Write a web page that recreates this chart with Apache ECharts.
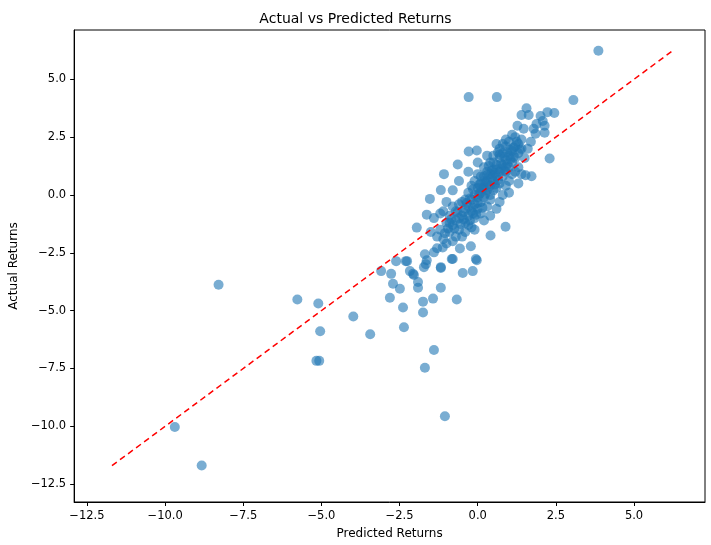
<!DOCTYPE html>
<html><head><meta charset="utf-8">
<script src="https://cdn.jsdelivr.net/npm/echarts@6/dist/echarts.min.js"></script>
<style>body{margin:0}#c{width:711px;height:545px}</style></head>
<body><div id="c"></div>
<script>
const outerPoints = [[3.86,6.23],[-0.29,4.23],[0.61,4.23],[3.06,4.10],[1.56,3.75],[1.40,3.46],[1.63,3.46],[2.01,3.41],[2.23,3.58],[2.45,3.54],[2.08,3.20],[1.88,3.07],[2.14,2.99],[1.27,2.99],[1.47,2.86],[1.79,2.86],[1.85,2.65],[2.14,2.69],[2.30,1.58],[1.53,0.85],[1.72,0.81],[1.40,0.90],
[-0.29,1.88],[-0.03,1.92],[-0.64,1.32],[-1.08,0.90],[-1.18,0.21],[-1.53,-0.17],[0.89,-1.37],[0.41,-1.75],[-0.03,-2.82],[-0.83,-2.77],[-1.18,-3.16],[-0.48,-3.37],[-0.16,-3.29],[-1.95,-1.41],[-2.26,-2.86],[-2.07,-3.41],[-1.66,-2.99],[-1.63,-0.85],[-1.12,-2.27],[-0.57,-2.31],[-0.22,-2.22],[-1.40,-2.48],
[-3.44,-6.02],[-2.36,-5.72],[-1.40,-6.70],[-1.69,-7.47],[-1.05,-9.56],[-2.81,-4.44],[-2.39,-4.86],[-1.75,-4.61],[-1.75,-5.08],[-1.43,-4.48],[-0.67,-4.52],[-1.18,-4.01],[-2.49,-4.05],[-2.71,-3.84],[-2.77,-3.41],[-3.09,-3.29],[-2.61,-2.86],[-2.30,-2.86],[-2.17,-3.29],[-2.04,-3.46],[-1.91,-3.76],[-1.91,-4.01],[-1.18,-3.12],[-0.80,-2.77],[-0.06,-2.77],[-1.69,-2.56],[-1.72,-3.12],[-1.63,-2.82],
[-8.29,-3.88],[-5.77,-4.52],[-5.10,-4.69],[-5.04,-5.89],[-5.16,-7.17],[-5.07,-7.17],[-3.98,-5.25],[-9.69,-10.03],[-8.83,-11.69]];
const densePoints = [
[-1.3,-1.8],[-1.2,-1.5],[-1.1,-1.9],[-1.0,-1.2],[-0.9,-1.6],[-0.9,-0.9],[-0.8,-1.3],[-0.8,-2.0],[-0.7,-0.7],[-0.7,-1.1],[-0.6,-1.5],[-0.6,-0.4],[-0.5,-0.9],[-0.5,-1.8],[-0.4,-0.2],[-0.4,-0.6],[-0.4,-1.2],[-0.3,0.1],[-0.3,-0.5],[-0.3,-0.9],[-0.2,0.4],[-0.2,-0.2],[-0.2,-0.7],[-0.2,-1.4],[-0.1,0.0],[-0.1,0.6],[-0.1,-0.4],[-0.1,-1.0],[0.0,0.3],[0.0,-0.1],[0.0,-0.6],[0.0,0.9],[0.1,0.5],[0.1,0.1],[0.1,-0.3],[0.1,-0.8],[0.2,0.8],[0.2,0.3],[0.2,-0.1],[0.2,1.2],[0.3,0.6],[0.3,0.2],[0.3,-0.5],[0.3,1.0],[0.4,0.9],[0.4,0.4],[0.4,1.4],[0.4,-0.2],[0.5,1.1],[0.5,0.6],[0.5,0.2],[0.5,1.7],[0.6,1.3],[0.6,0.8],[0.6,0.3],[0.6,-0.6],[0.7,1.6],[0.7,1.0],[0.7,0.5],[0.7,2.0],[0.8,1.3],[0.8,0.8],[0.8,1.8],[0.8,0.0],[0.9,1.5],[0.9,1.0],[0.9,2.1],[0.9,0.4],[1.0,1.7],[1.0,1.2],[1.0,2.3],[1.0,0.6],[1.1,1.9],[1.1,1.4],[1.1,0.9],[1.2,2.1],[1.2,1.6],[1.2,2.5],[1.3,1.8],[1.3,2.2],[1.3,1.2],[1.4,2.0],[1.4,2.4],[1.5,1.6],[1.6,2.0],[1.7,2.3],[1.1,2.6],[0.9,2.4],[0.6,2.2],[0.3,1.7],[0.0,1.4],[-0.3,1.0],[-0.6,0.6],[-0.8,0.2],[-1.0,-0.3],[-1.2,-0.8],[-1.4,-1.0],[-1.5,-1.6],[-1.3,-2.3],[-1.0,-2.1],[-0.7,-1.8],[-0.4,-1.6],[-0.1,-1.5],[0.2,-1.1],[0.4,-0.9],[0.7,-0.3],[1.0,0.1],[1.3,0.5],
[-0.5,-0.3],[-0.6,-1.0],[-0.3,-1.3],[0.1,0.8],[0.4,0.0],[0.5,1.4],[0.8,2.2],[1.2,1.0],[-0.8,-0.5],[-0.9,-1.2],[0.25,0.55],[0.35,1.25],[0.65,1.85],[0.15,-0.55],[-0.15,0.25],[-0.45,-0.75],[0.55,0.95],[0.85,1.65],[1.15,2.05],[-0.25,-1.1],[0.05,0.05],[0.75,1.35],[1.05,1.55],[-1.1,-0.7],[-0.95,-1.45],[0.45,0.75],[0.95,1.85],[1.35,1.95],[-0.05,-0.85],[0.6,1.1],
[-0.35,-0.35],[-0.15,-0.55],[0.05,0.45],[0.15,0.25],[0.25,0.05],[0.35,0.45],[0.45,1.05],[0.55,0.45],[0.65,0.65],[0.75,1.15],[0.85,1.05],[0.95,1.35],[1.05,1.95],[1.15,1.65],[-0.55,-1.25],[-0.65,-0.75],[-0.75,-1.45],[-0.85,-1.05],[-1.05,-1.65],[-0.25,-0.15],[0.0,-0.35],[0.2,0.6],[0.5,0.85],[0.7,1.75],[0.9,1.2],[1.25,2.3],[-0.45,-1.05],[-0.15,-0.8],[0.1,0.3],[0.3,0.85]];
const refLine = [[-11.7,-11.7],[6.2,6.2]];
const xTicks = [-12.5,-10,-7.5,-5,-2.5,0,2.5,5];
const yTicks = [-12.5,-10,-7.5,-5,-2.5,0,2.5,5];
const font = 'DejaVu Sans';
const ch = echarts.init(document.getElementById('c'));
const ax = (ticks) => ({
  axisLine:{show:true,onZero:false,lineStyle:{color:'#000'}},
  axisTick:{show:true,customValues:ticks,length:4,lineStyle:{color:'#000'}},
  splitLine:{show:false},
  axisLabel:{fontFamily:font,fontSize:11.5,color:'#000',customValues:ticks,formatter:v=>(+v).toFixed(1).replace('-','\u2212')}
});
ch.setOption({
  animation:false,
  title:{text:'Actual vs Predicted Returns',left:'center',top:7,textStyle:{fontFamily:font,fontSize:14,fontWeight:'normal',color:'#000'}},
  grid:{left:72,right:6,top:30,bottom:37,show:true,borderColor:'#000',borderWidth:1},
  xAxis:Object.assign({type:'value',min:-12.91,max:7.27,name:'Predicted Returns',nameLocation:'middle',nameGap:26,
    nameTextStyle:{fontFamily:font,fontSize:12,color:'#000'}},ax(xTicks)),
  yAxis:Object.assign({type:'value',min:-13.27,max:7.13,name:'Actual Returns',nameLocation:'middle',nameGap:46,
    nameTextStyle:{fontFamily:font,fontSize:12,color:'#000'}},ax(yTicks)),
  series:[
    {type:'scatter',data:outerPoints.concat(densePoints),symbolSize:10,itemStyle:{color:'#1f77b4',opacity:0.6}},
    {type:'line',data:refLine,symbol:'none',lineStyle:{color:'#ff0000',type:[6,4],width:1.5}}
  ]
});
</script></body></html>
